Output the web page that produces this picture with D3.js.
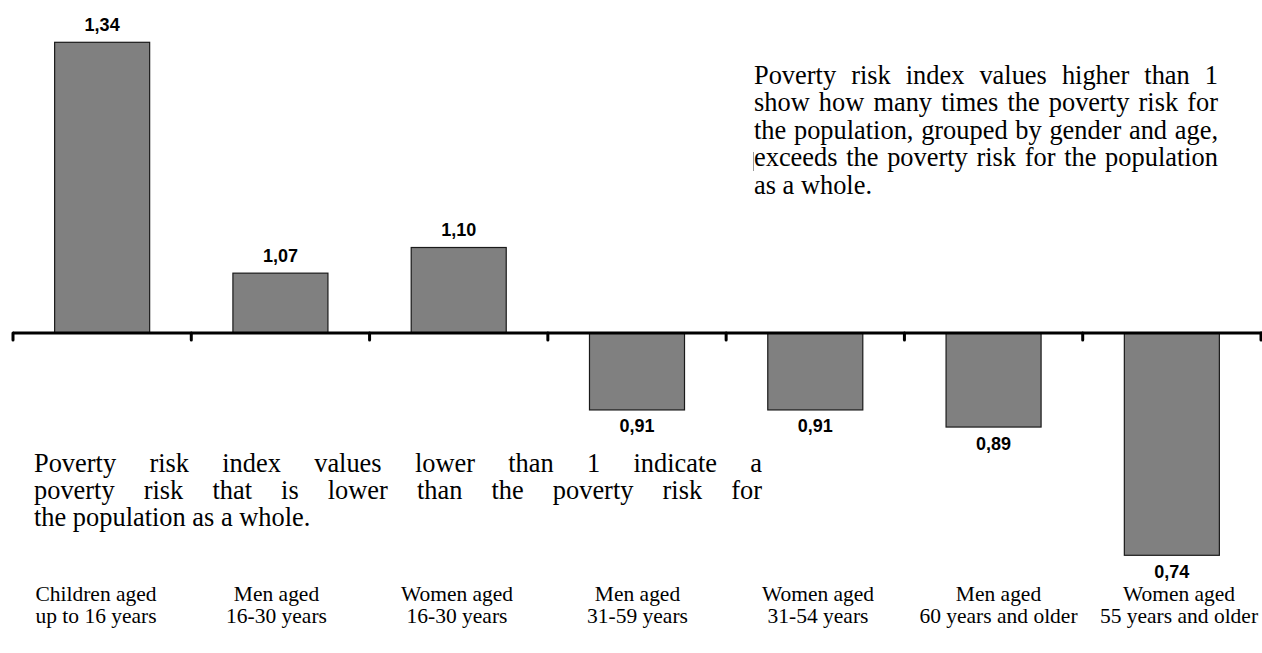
<!DOCTYPE html>
<html>
<head>
<meta charset="utf-8">
<script src="https://cdn.jsdelivr.net/npm/d3@7/dist/d3.min.js"></script>
<style>
  html, body { margin: 0; padding: 0; background: #fff; }
  svg { display: block; }
</style>
</head>
<body>
<svg id="chart" width="1262" height="653"></svg>
<script>
// Poverty risk index by gender and age group (1 = population as a whole)
const categories = [
  ["Children aged", "up to 16 years"],
  ["Men aged", "16-30 years"],
  ["Women aged", "16-30 years"],
  ["Men aged", "31-59 years"],
  ["Women aged", "31-54 years"],
  ["Men aged", "60 years and older"],
  ["Women aged", "55 years and older"]
];
const values = [1.34, 1.07, 1.10, 0.91, 0.91, 0.89, 0.74];
const baseline = 1;

const noteHigher = [
  "Poverty risk index values higher than 1",
  "show how many times the poverty risk for",
  "the population, grouped by gender and age,",
  "exceeds the poverty risk for the population",
  "as a whole."
];
const noteLower = [
  "Poverty risk index values lower than 1 indicate a",
  "poverty risk that is lower than the poverty risk for",
  "the population as a whole."
];

const serif = "'Liberation Serif', 'Times New Roman', serif";
const sans = "'Liberation Sans', Arial, sans-serif";

const svg = d3.select("#chart");
const keys = categories.map((c, i) => i);

const x = d3.scaleBand()
  .domain(keys)
  .range([13, 1261])
  .paddingInner(0.467)
  .paddingOuter(0.2335);

// Category labels sit in their own evenly spaced boxes under the axis
const xLabel = d3.scalePoint()
  .domain(keys)
  .range([96, 1179]);

const pxPerUnit = 855;
const yAxis = 333;
const y = d3.scaleLinear()
  .domain([0.7, 1.4])
  .range([yAxis + 0.3 * pxPerUnit, yAxis - 0.4 * pxPerUnit]);

const fmt = v => d3.format(".2f")(v).replace(".", ",");

// Bars grow from the 1.0 baseline
svg.append("g").selectAll("rect")
  .data(values)
  .join("rect")
  .attr("x", (d, i) => x(i))
  .attr("width", x.bandwidth())
  .attr("y", d => Math.min(y(d), y(baseline)))
  .attr("height", d => Math.abs(y(d) - y(baseline)))
  .attr("fill", "#808080")
  .attr("stroke", "#1a1a1a")
  .attr("stroke-width", 1.2);

// Value labels
svg.append("g").selectAll("text")
  .data(values)
  .join("text")
  .attr("x", (d, i) => x(i) + x.bandwidth() / 2)
  .attr("y", d => d >= baseline ? y(d) - 11.5 : y(d) + 22.5)
  .attr("text-anchor", "middle")
  .attr("font-family", sans)
  .attr("font-weight", "bold")
  .attr("font-size", 18)
  .attr("fill", "#000")
  .text(d => fmt(d));

// Baseline axis with tick marks between categories
const step = x.step();
const x0 = x.range()[0];
const tickXs = d3.range(keys.length + 1).map(i => x0 + i * step);
const axis = svg.append("g");
axis.append("line")
  .attr("x1", x0).attr("x2", 1262)
  .attr("y1", y(baseline)).attr("y2", y(baseline))
  .attr("stroke", "#000").attr("stroke-width", 3.2);
axis.selectAll("line.tick")
  .data(tickXs)
  .join("line")
  .attr("class", "tick")
  .attr("x1", d => d).attr("x2", d => d)
  .attr("y1", y(baseline)).attr("y2", y(baseline) + 7)
  .attr("stroke", "#000").attr("stroke-width", 3)
  .attr("stroke-linecap", "round");

// Category labels, two lines each, slightly widened type
const catG = svg.append("g")
  .attr("font-family", serif)
  .attr("font-size", 20)
  .attr("fill", "#000")
  .attr("text-anchor", "middle");
categories.forEach((lines, i) => {
  lines.forEach((ln, j) => {
    catG.append("text")
      .attr("transform", `translate(${xLabel(i)},${600.5 + j * 22.2}) scale(1.075,1)`)
      .text(ln);
  });
});

// Justified paragraph helper: spreads words so each line (except last) fills the width
function paragraph(g, lines, left, width, top, lineH, fontSize) {
  lines.forEach((ln, li) => {
    const words = ln.split(" ");
    const nodes = words.map(w => g.append("text")
      .attr("font-family", serif)
      .attr("font-size", fontSize)
      .attr("fill", "#000")
      .attr("y", top + li * lineH)
      .text(w));
    const widths = nodes.map(n => n.node().getComputedTextLength());
    const total = d3.sum(widths);
    const last = li === lines.length - 1;
    const space = fontSize * 0.25;
    const gap = (!last && words.length > 1) ? (width - total) / (words.length - 1) : space;
    let cx = left;
    nodes.forEach((n, k) => { n.attr("x", cx); cx += widths[k] + gap; });
  });
}

const hi = svg.append("g");
paragraph(hi, noteHigher, 754, 464, 84, 27.4, 26.4);
// thin caret mark before the fourth line
hi.append("line")
  .attr("x1", 753.5).attr("x2", 753.5)
  .attr("y1", 152).attr("y2", 171)
  .attr("stroke", "#999").attr("stroke-width", 1);

const lo = svg.append("g");
paragraph(lo, noteLower, 34, 728, 472, 27.2, 26.4);
</script>
</body>
</html>
